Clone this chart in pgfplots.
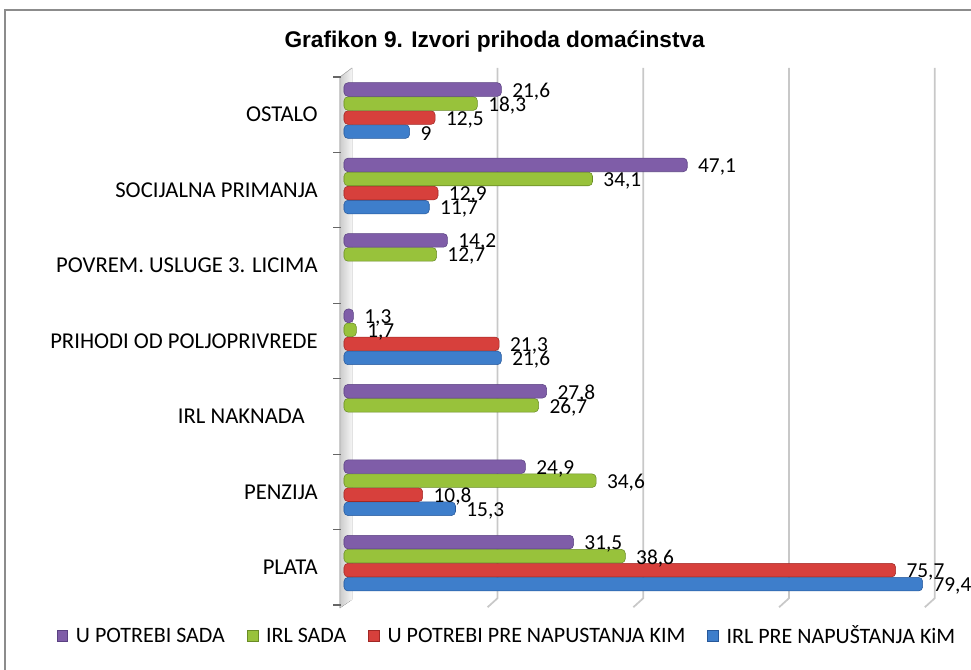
\documentclass[border=0pt]{standalone}
\usepackage{pgfplots}
\pgfplotsset{compat=1.18}
\usepackage{fontspec}
\setmainfont{Carlito}
\newfontfamily\titlefont{Liberation Sans}
\definecolor{pmid}{HTML}{7F5DA8}\definecolor{pbot}{HTML}{5A4182}
\definecolor{gmid}{HTML}{98C23B}\definecolor{gbot}{HTML}{6A8C26}
\definecolor{rmid}{HTML}{D7403C}\definecolor{rbot}{HTML}{A02825}
\definecolor{bmid}{HTML}{3E7ECB}\definecolor{bbot}{HTML}{27589A}
\definecolor{frame}{HTML}{8C8C8C}
\definecolor{gridc}{HTML}{C8C8C8}
\tikzset{
  pbar/.style={fill=pmid,draw=pbot},
  gbar/.style={fill=gmid,draw=gbot},
  rbar/.style={fill=rmid,draw=rbot},
  bbar/.style={fill=bmid,draw=bbot},
}
\begin{document}
\begin{tikzpicture}
\useasboundingbox (0,0) rectangle (728.25pt,502.5pt);
\draw[frame,line width=1.5pt] (3.75pt,-2pt) -- (3.75pt,495pt) -- (730pt,495pt);
\node[font=\titlefont\bfseries\fontsize{17}{19}\selectfont] at (371pt,471pt) {Grafikon 9. Izvori prihoda domaćinstva};
\begin{axis}[
  at={(258pt,48.75pt)}, anchor=south west,
  scale only axis, width=437.25pt, height=396pt,
  xmin=0, xmax=80, ymin=-0.5, ymax=6.5,
  xtick=\empty, major tick length=0pt,
  ytick={0,...,6},
  yticklabels={PLATA,PENZIJA,IRL NAKNADA\phantom{A},PRIHODI OD POLJOPRIVREDE,POVREM. USLUGE 3. LICIMA,SOCIJALNA PRIMANJA,OSTALO},
  yticklabel style={font=\fontsize{17}{19}\selectfont,anchor=east,inner xsep=0pt,xshift=-19.5pt},
  axis line style={draw=none},
  clip=false,
  xbar, bar width=0.18,
  nodes near coords, point meta=x,
  nodes near coords style={font=\fontsize{16}{18}\selectfont,anchor=west,inner xsep=0pt,xshift=8pt,yshift=-1.5pt,
    /pgf/number format/.cd,use comma,assume math mode=true},
  legend columns=4, reverse legend,
  legend style={at={(0.2779,-0.0587)},anchor=center,draw=none,fill=none,
    font=\fontsize{16.5}{18}\selectfont,nodes={inner sep=0pt},
    /tikz/every odd column/.append style={column sep=6pt},
    /tikz/every even column/.append style={column sep=16.5pt}},
  legend image code/.code={\path[#1,rounded corners=0pt] (0pt,-4pt) rectangle (8pt,4pt);},
  legend cell align=left,
]
% back wall, grid and category ticks
\foreach \g in {20,40,60,80}{
  \edef\tmp{\noexpand\draw[gridc,line width=1.3pt] (axis cs:\g+1.07,6.62) -- (axis cs:\g+1.07,-0.41) -- (axis cs:\g-0.3,-0.53);}\tmp
}
\fill[left color=gray!40,right color=gray!8] (axis cs:-0.55,-0.54) -- (axis cs:-0.55,6.5) -- (axis cs:1.1,6.62) -- (axis cs:1.1,-0.43) -- cycle;
\draw[gray!60] (axis cs:-0.55,-0.54) -- (axis cs:-0.55,6.5) -- (axis cs:1.1,6.62);
\foreach \t in {-0.5,0.5,...,6.5}{
  \edef\tmp{\noexpand\draw[gray!80!black,line width=0.9pt] (axis cs:-1.5,\t) -- (axis cs:-0.4,\t);}\tmp
}
\addplot[bbar,rounded corners=3pt,bar shift=-0.224] coordinates {(79.4,0) (15.3,1) (21.6,3) (11.7,5) (9,6)};
\addlegendentry{IRL PRE NAPUŠTANJA KiM}
\addplot[rbar,rounded corners=3pt,bar shift=-0.038] coordinates {(75.7,0) (10.8,1) (21.3,3) (12.9,5) (12.5,6)};
\addlegendentry{U POTREBI PRE NAPUSTANJA KIM}
\addplot[gbar,rounded corners=3pt,bar shift=0.148] coordinates {(38.6,0) (34.6,1) (26.7,2) (1.7,3) (12.7,4) (34.1,5) (18.3,6)};
\addlegendentry{IRL SADA}
\addplot[pbar,rounded corners=3pt,bar shift=0.334] coordinates {(31.5,0) (24.9,1) (27.8,2) (1.3,3) (14.2,4) (47.1,5) (21.6,6)};
\addlegendentry{U POTREBI SADA}
\end{axis}
\end{tikzpicture}
\end{document}
